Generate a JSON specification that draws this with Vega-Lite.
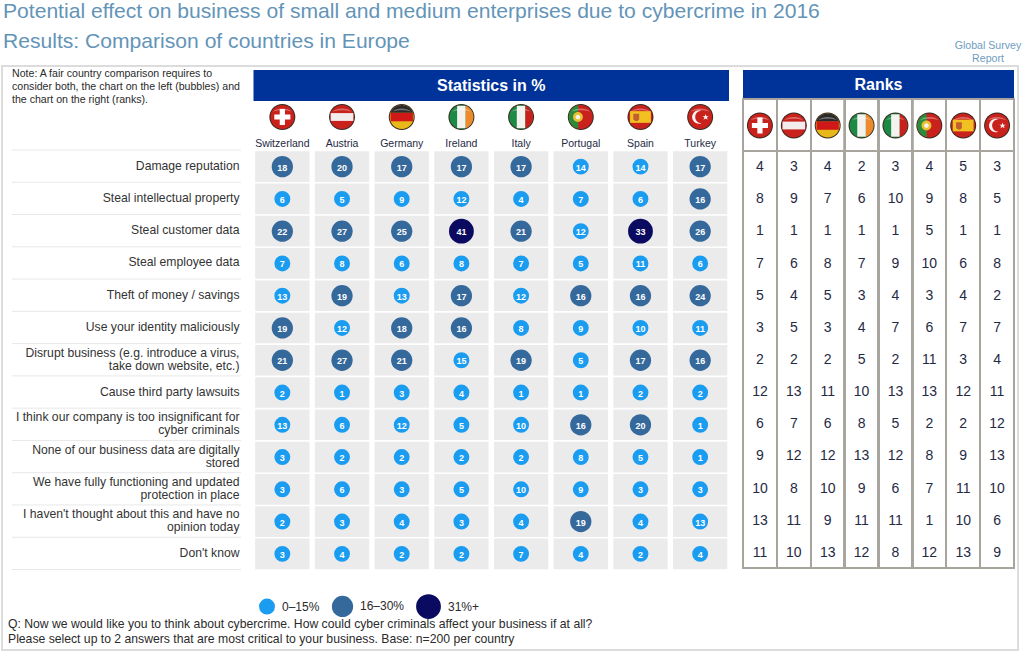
{"$schema":"https://vega.github.io/schema/vega-lite/v6.json","width":1023,"height":654,"autosize":"none","padding":0,"background":"white","config":{"view":{"stroke":null},"font":"Liberation Sans"},
"datasets":{"cells":[
{"q":"Damage reputation","country":"Switzerland","pct":18,"rank":4,"band":"16–30%"},{"q":"Damage reputation","country":"Austria","pct":20,"rank":3,"band":"16–30%"},{"q":"Damage reputation","country":"Germany","pct":17,"rank":4,"band":"16–30%"},{"q":"Damage reputation","country":"Ireland","pct":17,"rank":2,"band":"16–30%"},{"q":"Damage reputation","country":"Italy","pct":17,"rank":3,"band":"16–30%"},{"q":"Damage reputation","country":"Portugal","pct":14,"rank":4,"band":"0–15%"},{"q":"Damage reputation","country":"Spain","pct":14,"rank":5,"band":"0–15%"},{"q":"Damage reputation","country":"Turkey","pct":17,"rank":3,"band":"16–30%"},
{"q":"Steal intellectual property","country":"Switzerland","pct":6,"rank":8,"band":"0–15%"},{"q":"Steal intellectual property","country":"Austria","pct":5,"rank":9,"band":"0–15%"},{"q":"Steal intellectual property","country":"Germany","pct":9,"rank":7,"band":"0–15%"},{"q":"Steal intellectual property","country":"Ireland","pct":12,"rank":6,"band":"0–15%"},{"q":"Steal intellectual property","country":"Italy","pct":4,"rank":10,"band":"0–15%"},{"q":"Steal intellectual property","country":"Portugal","pct":7,"rank":9,"band":"0–15%"},{"q":"Steal intellectual property","country":"Spain","pct":6,"rank":8,"band":"0–15%"},{"q":"Steal intellectual property","country":"Turkey","pct":16,"rank":5,"band":"16–30%"},
{"q":"Steal customer data","country":"Switzerland","pct":22,"rank":1,"band":"16–30%"},{"q":"Steal customer data","country":"Austria","pct":27,"rank":1,"band":"16–30%"},{"q":"Steal customer data","country":"Germany","pct":25,"rank":1,"band":"16–30%"},{"q":"Steal customer data","country":"Ireland","pct":41,"rank":1,"band":"31%+"},{"q":"Steal customer data","country":"Italy","pct":21,"rank":1,"band":"16–30%"},{"q":"Steal customer data","country":"Portugal","pct":12,"rank":5,"band":"0–15%"},{"q":"Steal customer data","country":"Spain","pct":33,"rank":1,"band":"31%+"},{"q":"Steal customer data","country":"Turkey","pct":26,"rank":1,"band":"16–30%"},
{"q":"Steal employee data","country":"Switzerland","pct":7,"rank":7,"band":"0–15%"},{"q":"Steal employee data","country":"Austria","pct":8,"rank":6,"band":"0–15%"},{"q":"Steal employee data","country":"Germany","pct":6,"rank":8,"band":"0–15%"},{"q":"Steal employee data","country":"Ireland","pct":8,"rank":7,"band":"0–15%"},{"q":"Steal employee data","country":"Italy","pct":7,"rank":9,"band":"0–15%"},{"q":"Steal employee data","country":"Portugal","pct":5,"rank":10,"band":"0–15%"},{"q":"Steal employee data","country":"Spain","pct":11,"rank":6,"band":"0–15%"},{"q":"Steal employee data","country":"Turkey","pct":6,"rank":8,"band":"0–15%"},
{"q":"Theft of money / savings","country":"Switzerland","pct":13,"rank":5,"band":"0–15%"},{"q":"Theft of money / savings","country":"Austria","pct":19,"rank":4,"band":"16–30%"},{"q":"Theft of money / savings","country":"Germany","pct":13,"rank":5,"band":"0–15%"},{"q":"Theft of money / savings","country":"Ireland","pct":17,"rank":3,"band":"16–30%"},{"q":"Theft of money / savings","country":"Italy","pct":12,"rank":4,"band":"0–15%"},{"q":"Theft of money / savings","country":"Portugal","pct":16,"rank":3,"band":"16–30%"},{"q":"Theft of money / savings","country":"Spain","pct":16,"rank":4,"band":"16–30%"},{"q":"Theft of money / savings","country":"Turkey","pct":24,"rank":2,"band":"16–30%"},
{"q":"Use your identity maliciously","country":"Switzerland","pct":19,"rank":3,"band":"16–30%"},{"q":"Use your identity maliciously","country":"Austria","pct":12,"rank":5,"band":"0–15%"},{"q":"Use your identity maliciously","country":"Germany","pct":18,"rank":3,"band":"16–30%"},{"q":"Use your identity maliciously","country":"Ireland","pct":16,"rank":4,"band":"16–30%"},{"q":"Use your identity maliciously","country":"Italy","pct":8,"rank":7,"band":"0–15%"},{"q":"Use your identity maliciously","country":"Portugal","pct":9,"rank":6,"band":"0–15%"},{"q":"Use your identity maliciously","country":"Spain","pct":10,"rank":7,"band":"0–15%"},{"q":"Use your identity maliciously","country":"Turkey","pct":11,"rank":7,"band":"0–15%"},
{"q":"Disrupt business (e.g. introduce a virus,|take down website, etc.)","country":"Switzerland","pct":21,"rank":2,"band":"16–30%"},{"q":"Disrupt business (e.g. introduce a virus,|take down website, etc.)","country":"Austria","pct":27,"rank":2,"band":"16–30%"},{"q":"Disrupt business (e.g. introduce a virus,|take down website, etc.)","country":"Germany","pct":21,"rank":2,"band":"16–30%"},{"q":"Disrupt business (e.g. introduce a virus,|take down website, etc.)","country":"Ireland","pct":15,"rank":5,"band":"0–15%"},{"q":"Disrupt business (e.g. introduce a virus,|take down website, etc.)","country":"Italy","pct":19,"rank":2,"band":"16–30%"},{"q":"Disrupt business (e.g. introduce a virus,|take down website, etc.)","country":"Portugal","pct":5,"rank":11,"band":"0–15%"},{"q":"Disrupt business (e.g. introduce a virus,|take down website, etc.)","country":"Spain","pct":17,"rank":3,"band":"16–30%"},{"q":"Disrupt business (e.g. introduce a virus,|take down website, etc.)","country":"Turkey","pct":16,"rank":4,"band":"16–30%"},
{"q":"Cause third party lawsuits","country":"Switzerland","pct":2,"rank":12,"band":"0–15%"},{"q":"Cause third party lawsuits","country":"Austria","pct":1,"rank":13,"band":"0–15%"},{"q":"Cause third party lawsuits","country":"Germany","pct":3,"rank":11,"band":"0–15%"},{"q":"Cause third party lawsuits","country":"Ireland","pct":4,"rank":10,"band":"0–15%"},{"q":"Cause third party lawsuits","country":"Italy","pct":1,"rank":13,"band":"0–15%"},{"q":"Cause third party lawsuits","country":"Portugal","pct":1,"rank":13,"band":"0–15%"},{"q":"Cause third party lawsuits","country":"Spain","pct":2,"rank":12,"band":"0–15%"},{"q":"Cause third party lawsuits","country":"Turkey","pct":2,"rank":11,"band":"0–15%"},
{"q":"I think our company is too insignificant for|cyber criminals","country":"Switzerland","pct":13,"rank":6,"band":"0–15%"},{"q":"I think our company is too insignificant for|cyber criminals","country":"Austria","pct":6,"rank":7,"band":"0–15%"},{"q":"I think our company is too insignificant for|cyber criminals","country":"Germany","pct":12,"rank":6,"band":"0–15%"},{"q":"I think our company is too insignificant for|cyber criminals","country":"Ireland","pct":5,"rank":8,"band":"0–15%"},{"q":"I think our company is too insignificant for|cyber criminals","country":"Italy","pct":10,"rank":5,"band":"0–15%"},{"q":"I think our company is too insignificant for|cyber criminals","country":"Portugal","pct":16,"rank":2,"band":"16–30%"},{"q":"I think our company is too insignificant for|cyber criminals","country":"Spain","pct":20,"rank":2,"band":"16–30%"},{"q":"I think our company is too insignificant for|cyber criminals","country":"Turkey","pct":1,"rank":12,"band":"0–15%"},
{"q":"None of our business data are digitally|stored","country":"Switzerland","pct":3,"rank":9,"band":"0–15%"},{"q":"None of our business data are digitally|stored","country":"Austria","pct":2,"rank":12,"band":"0–15%"},{"q":"None of our business data are digitally|stored","country":"Germany","pct":2,"rank":12,"band":"0–15%"},{"q":"None of our business data are digitally|stored","country":"Ireland","pct":2,"rank":13,"band":"0–15%"},{"q":"None of our business data are digitally|stored","country":"Italy","pct":2,"rank":12,"band":"0–15%"},{"q":"None of our business data are digitally|stored","country":"Portugal","pct":8,"rank":8,"band":"0–15%"},{"q":"None of our business data are digitally|stored","country":"Spain","pct":5,"rank":9,"band":"0–15%"},{"q":"None of our business data are digitally|stored","country":"Turkey","pct":1,"rank":13,"band":"0–15%"},
{"q":"We have fully functioning and updated|protection in place","country":"Switzerland","pct":3,"rank":10,"band":"0–15%"},{"q":"We have fully functioning and updated|protection in place","country":"Austria","pct":6,"rank":8,"band":"0–15%"},{"q":"We have fully functioning and updated|protection in place","country":"Germany","pct":3,"rank":10,"band":"0–15%"},{"q":"We have fully functioning and updated|protection in place","country":"Ireland","pct":5,"rank":9,"band":"0–15%"},{"q":"We have fully functioning and updated|protection in place","country":"Italy","pct":10,"rank":6,"band":"0–15%"},{"q":"We have fully functioning and updated|protection in place","country":"Portugal","pct":9,"rank":7,"band":"0–15%"},{"q":"We have fully functioning and updated|protection in place","country":"Spain","pct":3,"rank":11,"band":"0–15%"},{"q":"We have fully functioning and updated|protection in place","country":"Turkey","pct":3,"rank":10,"band":"0–15%"},
{"q":"I haven't thought about this and have no|opinion today","country":"Switzerland","pct":2,"rank":13,"band":"0–15%"},{"q":"I haven't thought about this and have no|opinion today","country":"Austria","pct":3,"rank":11,"band":"0–15%"},{"q":"I haven't thought about this and have no|opinion today","country":"Germany","pct":4,"rank":9,"band":"0–15%"},{"q":"I haven't thought about this and have no|opinion today","country":"Ireland","pct":3,"rank":11,"band":"0–15%"},{"q":"I haven't thought about this and have no|opinion today","country":"Italy","pct":4,"rank":11,"band":"0–15%"},{"q":"I haven't thought about this and have no|opinion today","country":"Portugal","pct":19,"rank":1,"band":"16–30%"},{"q":"I haven't thought about this and have no|opinion today","country":"Spain","pct":4,"rank":10,"band":"0–15%"},{"q":"I haven't thought about this and have no|opinion today","country":"Turkey","pct":13,"rank":6,"band":"0–15%"},
{"q":"Don't know","country":"Switzerland","pct":3,"rank":11,"band":"0–15%"},{"q":"Don't know","country":"Austria","pct":4,"rank":10,"band":"0–15%"},{"q":"Don't know","country":"Germany","pct":2,"rank":13,"band":"0–15%"},{"q":"Don't know","country":"Ireland","pct":2,"rank":12,"band":"0–15%"},{"q":"Don't know","country":"Italy","pct":7,"rank":8,"band":"0–15%"},{"q":"Don't know","country":"Portugal","pct":4,"rank":12,"band":"0–15%"},{"q":"Don't know","country":"Spain","pct":2,"rank":13,"band":"0–15%"},{"q":"Don't know","country":"Turkey","pct":4,"rank":9,"band":"0–15%"}
],
"flags":[
{"country":"Switzerland","part":"rim"},{"country":"Switzerland","part":"disc-red"},{"country":"Switzerland","part":"cross-white"},{"country":"Switzerland","part":"gloss"},
{"country":"Austria","part":"rim"},{"country":"Austria","part":"disc-red"},{"country":"Austria","part":"hband-white"},{"country":"Austria","part":"gloss"},
{"country":"Germany","part":"rim"},{"country":"Germany","part":"disc-gold"},{"country":"Germany","part":"hband-red"},{"country":"Germany","part":"topcap-black"},{"country":"Germany","part":"gloss"},
{"country":"Ireland","part":"rim"},{"country":"Ireland","part":"disc-green"},{"country":"Ireland","part":"vmid-white"},{"country":"Ireland","part":"rightcap-orange"},{"country":"Ireland","part":"gloss"},
{"country":"Italy","part":"rim"},{"country":"Italy","part":"disc-green"},{"country":"Italy","part":"vmid-white"},{"country":"Italy","part":"rightcap-red"},{"country":"Italy","part":"gloss"},
{"country":"Portugal","part":"rim"},{"country":"Portugal","part":"disc-red"},{"country":"Portugal","part":"leftcap-green"},{"country":"Portugal","part":"crest-yellow"},{"country":"Portugal","part":"crest-white"},{"country":"Portugal","part":"gloss"},
{"country":"Spain","part":"rim"},{"country":"Spain","part":"disc-red"},{"country":"Spain","part":"wideband-yellow"},{"country":"Spain","part":"spaincrest"},{"country":"Spain","part":"gloss"},
{"country":"Turkey","part":"rim"},{"country":"Turkey","part":"disc-red"},{"country":"Turkey","part":"crescent-white"},{"country":"Turkey","part":"star-white"},{"country":"Turkey","part":"gloss"}
]},
"resolve":{"scale":{"x":"independent","y":"independent","color":"independent","size":"independent","shape":"independent"},"axis":{"x":"independent","y":"independent"},"legend":{"color":"independent","size":"independent"}},
"layer":[
{"data":{"values":[{"block":"frame"}]},"mark":{"type":"rect","fill":"white","stroke":"#dcdcdc","strokeWidth":2},"encoding":{"x":{"field":"block","type":"nominal","axis":null,"scale":{"type":"band","domain":["frame"],"range":[2,1018],"padding":0}},"y":{"field":"block","type":"nominal","axis":null,"scale":{"type":"band","domain":["frame"],"range":[66,650],"padding":0}}}},
{"data":{"values":[{"block":"title","line":1,"text":"Potential effect on business of small and medium enterprises due to cybercrime in 2016"},{"block":"title","line":2,"text":"Results: Comparison of countries in Europe"}]},"mark":{"type":"text","align":"left","baseline":"middle","fontSize":21.1,"color":"#6394b8"},"encoding":{"text":{"field":"text"},"x":{"field":"block","type":"nominal","axis":null,"scale":{"type":"point","domain":["title"],"range":[3,3]}},"y":{"field":"line","type":"quantitative","axis":null,"scale":{"domain":[1,2],"range":[12,42],"nice":false,"zero":false}}}},
{"data":{"values":[{"block":"report","line":1,"text":"Global Survey"},{"block":"report","line":2,"text":"Report"}]},"mark":{"type":"text","align":"center","baseline":"middle","fontSize":10.6,"color":"#6f9cc0"},"encoding":{"text":{"field":"text"},"x":{"field":"block","type":"nominal","axis":null,"scale":{"type":"point","domain":["report"],"range":[988,988]}},"y":{"field":"line","type":"quantitative","axis":null,"scale":{"domain":[1,2],"range":[46,59],"nice":false,"zero":false}}}},
{"data":{"values":[{"block":"note","line":1,"text":"Note: A fair country comparison requires to"},{"block":"note","line":2,"text":"consider both, the chart on the left (bubbles) and"},{"block":"note","line":3,"text":"the chart on the right (ranks)."}]},"mark":{"type":"text","align":"left","baseline":"middle","fontSize":10.6,"color":"#2a2a2a"},"encoding":{"text":{"field":"text"},"x":{"field":"block","type":"nominal","axis":null,"scale":{"type":"point","domain":["note"],"range":[12,12]}},"y":{"field":"line","type":"quantitative","axis":null,"scale":{"domain":[1,3],"range":[73.5,99.5],"nice":false,"zero":false}}}},
{"data":{"values":[{"block":"foot","line":1,"text":"Q: Now we would like you to think about cybercrime. How could cyber criminals affect your business if at all?"},{"block":"foot","line":2,"text":"Please select up to 2 answers that are most critical to your business. Base: n=200 per country"}]},"mark":{"type":"text","align":"left","baseline":"middle","fontSize":12.2,"color":"#2a2a2a"},"encoding":{"text":{"field":"text"},"x":{"field":"block","type":"nominal","axis":null,"scale":{"type":"point","domain":["foot"],"range":[8,8]}},"y":{"field":"line","type":"quantitative","axis":null,"scale":{"domain":[1,2],"range":[624,639],"nice":false,"zero":false}}}},
{"data":{"values":[{"panel":"Statistics in %"}]},"encoding":{"x":{"field":"panel","type":"nominal","axis":null,"scale":{"type":"band","domain":["Statistics in %"],"range":[253.5,729],"padding":0}},"y":{"field":"panel","type":"nominal","axis":null,"scale":{"type":"band","domain":["Statistics in %"],"range":[70,101],"padding":0}}},"layer":[{"mark":{"type":"rect","fill":"#003399"}},{"mark":{"type":"text","color":"white","fontWeight":"bold","fontSize":16,"baseline":"middle"},"encoding":{"text":{"field":"panel"}}}]},
{"data":{"values":[{"panel":"Ranks"}]},"encoding":{"x":{"field":"panel","type":"nominal","axis":null,"scale":{"type":"band","domain":["Ranks"],"range":[743,1014],"padding":0}},"y":{"field":"panel","type":"nominal","axis":null,"scale":{"type":"band","domain":["Ranks"],"range":[70,99],"padding":0}}},"layer":[{"mark":{"type":"rect","fill":"#003399"}},{"mark":{"type":"text","color":"white","fontWeight":"bold","fontSize":16,"baseline":"middle","dy":0.5},"encoding":{"text":{"field":"panel"}}}]},
{"data":{"name":"cells"},"transform":[{"filter":"datum.country === 'Turkey'"}],"layer":[
{"mark":{"type":"rule","stroke":"#e8e8e8","strokeWidth":1},"encoding":{"x":{"datum":0,"type":"quantitative","axis":null,"scale":{"domain":[0,1],"range":[12,241]}},"x2":{"datum":1},"y":{"field":"q","type":"nominal","sort":null,"bandPosition":0,"axis":null,"scale":{"type":"band","range":[150,569.5],"padding":0}}}},
{"transform":[{"filter":"datum.q === \"Don't know\""}],"mark":{"type":"rule","stroke":"#e8e8e8","strokeWidth":1},"encoding":{"x":{"datum":0,"type":"quantitative","axis":null,"scale":{"domain":[0,1],"range":[12,241]}},"x2":{"datum":1},"y":{"field":"q","type":"nominal","bandPosition":0,"axis":null,"scale":{"type":"point","range":[569.5,569.5]}}}}
],"resolve":{"scale":{"y":"independent"}}},
{"data":{"name":"cells"},"encoding":{"x":{"field":"country","type":"nominal","sort":null,"title":null,"scale":{"type":"band","domain":["Switzerland","Austria","Germany","Ireland","Italy","Portugal","Spain","Turkey"],"range":[252.5,730],"paddingInner":0.09,"paddingOuter":0.045},"axis":{"orient":"top","offset":-148,"domain":false,"ticks":false,"labelPadding":0,"labelAngle":0,"labelFontSize":10.5,"labelColor":"#1f2a44","labelFont":"Liberation Sans","labelBound":false,"labelOverlap":false,"grid":false}},"y":{"field":"q","type":"nominal","sort":null,"title":null,"scale":{"type":"band","range":[150.5,570],"paddingInner":0.05,"paddingOuter":0.025},"axis":{"orient":"left","offset":-241,"domain":false,"ticks":false,"labelPadding":2,"labelFontSize":12.2,"labelColor":"#333333","labelFont":"Liberation Sans","labelBound":false,"labelOverlap":false,"labelLimit":400,"labelLineHeight":13,"grid":false,"labelExpr":"split(datum.label, '|')","labelOffset":{"condition":{"test":"indexof(datum.value,'|')>=0","value":-7.5},"value":-1}}}},"layer":[
{"mark":{"type":"rect","fill":"#ebebeb"}},
{"mark":{"type":"point","filled":true,"opacity":1,"strokeWidth":0},"encoding":{"color":{"field":"band","type":"nominal","scale":{"domain":["0–15%","16–30%","31%+"],"range":["#1a9cf0","#35699c","#0a0a60"]},"legend":{"orient":"none","legendX":258,"legendY":593,"direction":"horizontal","title":null,"labelFontSize":12,"labelColor":"#2a2a2a","symbolType":"circle","columnPadding":8,"labelOffset":6,"symbolOpacity":1}},"size":{"field":"band","type":"nominal","scale":{"type":"ordinal","domain":["0–15%","16–30%","31%+"],"range":[254,452,616]},"legend":{"orient":"none","legendX":258,"legendY":593,"direction":"horizontal","title":null}}}},
{"mark":{"type":"text","color":"white","fontWeight":"bold","fontSize":9,"baseline":"middle","dy":1},"encoding":{"text":{"field":"pct","type":"quantitative"}}}
]},
{"data":{"name":"flags"},"mark":{"type":"point","filled":true,"opacity":1,"strokeWidth":0,"size":676},"encoding":{"x":{"field":"country","type":"nominal","axis":null,"scale":{"type":"band","domain":["Switzerland","Austria","Germany","Ireland","Italy","Portugal","Spain","Turkey"],"range":[252.5,730],"padding":0}},"y":{"datum":"flags","type":"nominal","axis":null,"scale":{"type":"point","domain":["flags"],"range":[117,117]}},
"color":{"field":"part","type":"nominal","legend":null,"scale":{"domain":["rim","disc-red","disc-green","disc-gold","cross-white","hband-white","hband-red","topcap-black","vmid-white","rightcap-orange","rightcap-red","leftcap-green","crest-yellow","crest-white","wideband-yellow","spaincrest","crescent-white","star-white","gloss"],"range":["#3a2a22","#c9221c","#1c8a45","#e8b818","#ffffff","#f2ecec","#d01818","#2a2a2a","#f4f2ee","#ef8a2c","#c8201c","#2c8a3a","#e8c030","#f4f2ee","#f2c020","#c06030","#f8f4f4","#f8f4f4","rgba(255,255,255,0.35)"]}},
"shape":{"field":"part","type":"nominal","legend":null,"scale":{"domain":["rim","disc-red","disc-green","disc-gold","cross-white","hband-white","hband-red","topcap-black","vmid-white","rightcap-orange","rightcap-red","leftcap-green","crest-yellow","crest-white","wideband-yellow","spaincrest","crescent-white","star-white","gloss"],"range":["M-1,0A1,1 0 1,1 1,0A1,1 0 1,1 -1,0Z","M-.92,0A.92,.92 0 1,1 .92,0A.92,.92 0 1,1 -.92,0Z","M-.92,0A.92,.92 0 1,1 .92,0A.92,.92 0 1,1 -.92,0Z","M-.92,0A.92,.92 0 1,1 .92,0A.92,.92 0 1,1 -.92,0Z","M-.2,-.62H.2V-.2H.62V.2H.2V.62H-.2V.2H-.62V-.2H-.2Z","M-.87,-.3H.87V.3H-.87Z","M-.86,-.33H.86V.33H-.86Z","M-.86,-.33A.92,.92 0 0,1 .86,-.33Z","M-.33,-.86H.33V.86H-.33Z","M.33,-.86A.92,.92 0 0,1 .33,.86Z","M.33,-.86A.92,.92 0 0,1 .33,.86Z","M-.2,-.9A.92,.92 0 0,0 -.2,.9Z","M-.6,0A.38,.38 0 1,1 .16,0A.38,.38 0 1,1 -.6,0Z","M-.4,0A.18,.18 0 1,1 -.04,0A.18,.18 0 1,1 -.4,0Z","M-.8,-.45H.8V.45H-.8Z","M-.55,-.25H-.1V.2Q-.3,.45 -.55,.2Z","M.1,-.48A.52,.52 0 1,0 .1,.48A.42,.42 0 1,1 .1,-.48Z","M.42,-.24L.48,-.06H.66L.52,.04L.58,.22L.42,.12L.26,.22L.32,.04L.18,-.06H.36Z","M-.72,-.42A.9,.6 0 0,1 .72,-.42A1.4,.7 0 0,0 -.72,-.42Z"]}}}},
{"data":{"name":"flags"},"mark":{"type":"point","filled":true,"opacity":1,"strokeWidth":0,"size":676},"encoding":{"x":{"field":"country","type":"nominal","axis":null,"scale":{"type":"band","domain":["Switzerland","Austria","Germany","Ireland","Italy","Portugal","Spain","Turkey"],"range":[743,1014],"padding":0}},"y":{"datum":"flags","type":"nominal","axis":null,"scale":{"type":"point","domain":["flags"],"range":[125.5,125.5]}},
"color":{"field":"part","type":"nominal","legend":null,"scale":{"domain":["rim","disc-red","disc-green","disc-gold","cross-white","hband-white","hband-red","topcap-black","vmid-white","rightcap-orange","rightcap-red","leftcap-green","crest-yellow","crest-white","wideband-yellow","spaincrest","crescent-white","star-white","gloss"],"range":["#3a2a22","#c9221c","#1c8a45","#e8b818","#ffffff","#f2ecec","#d01818","#2a2a2a","#f4f2ee","#ef8a2c","#c8201c","#2c8a3a","#e8c030","#f4f2ee","#f2c020","#c06030","#f8f4f4","#f8f4f4","rgba(255,255,255,0.35)"]}},
"shape":{"field":"part","type":"nominal","legend":null,"scale":{"domain":["rim","disc-red","disc-green","disc-gold","cross-white","hband-white","hband-red","topcap-black","vmid-white","rightcap-orange","rightcap-red","leftcap-green","crest-yellow","crest-white","wideband-yellow","spaincrest","crescent-white","star-white","gloss"],"range":["M-1,0A1,1 0 1,1 1,0A1,1 0 1,1 -1,0Z","M-.92,0A.92,.92 0 1,1 .92,0A.92,.92 0 1,1 -.92,0Z","M-.92,0A.92,.92 0 1,1 .92,0A.92,.92 0 1,1 -.92,0Z","M-.92,0A.92,.92 0 1,1 .92,0A.92,.92 0 1,1 -.92,0Z","M-.2,-.62H.2V-.2H.62V.2H.2V.62H-.2V.2H-.62V-.2H-.2Z","M-.87,-.3H.87V.3H-.87Z","M-.86,-.33H.86V.33H-.86Z","M-.86,-.33A.92,.92 0 0,1 .86,-.33Z","M-.33,-.86H.33V.86H-.33Z","M.33,-.86A.92,.92 0 0,1 .33,.86Z","M.33,-.86A.92,.92 0 0,1 .33,.86Z","M-.2,-.9A.92,.92 0 0,0 -.2,.9Z","M-.6,0A.38,.38 0 1,1 .16,0A.38,.38 0 1,1 -.6,0Z","M-.4,0A.18,.18 0 1,1 -.04,0A.18,.18 0 1,1 -.4,0Z","M-.8,-.45H.8V.45H-.8Z","M-.55,-.25H-.1V.2Q-.3,.45 -.55,.2Z","M.1,-.48A.52,.52 0 1,0 .1,.48A.42,.42 0 1,1 .1,-.48Z","M.42,-.24L.48,-.06H.66L.52,.04L.58,.22L.42,.12L.26,.22L.32,.04L.18,-.06H.36Z","M-.72,-.42A.9,.6 0 0,1 .72,-.42A1.4,.7 0 0,0 -.72,-.42Z"]}}}},
{"data":{"name":"flags"},"mark":{"type":"rect","fill":"transparent","stroke":"#a8a49e","strokeWidth":1.5},"encoding":{"x":{"field":"country","type":"nominal","axis":null,"scale":{"type":"band","domain":["Switzerland","Austria","Germany","Ireland","Italy","Portugal","Spain","Turkey"],"range":[743,1014],"padding":0}},"y":{"datum":0,"type":"quantitative","axis":null,"scale":{"domain":[0,1],"range":[99,151]}},"y2":{"datum":1}}},
{"data":{"name":"cells"},"mark":{"type":"rect","fill":"transparent","stroke":"#a8a49e","strokeWidth":1.5},"encoding":{"x":{"field":"country","type":"nominal","axis":null,"scale":{"type":"band","domain":["Switzerland","Austria","Germany","Ireland","Italy","Portugal","Spain","Turkey"],"range":[743,1014],"padding":0}},"y":{"datum":0,"type":"quantitative","axis":null,"scale":{"domain":[0,1],"range":[151,568]}},"y2":{"datum":1}}},
{"data":{"name":"cells"},"mark":{"type":"text","fontSize":14,"color":"#1f2a44","baseline":"middle"},"encoding":{"text":{"field":"rank","type":"quantitative"},"x":{"field":"country","type":"nominal","axis":null,"scale":{"type":"band","domain":["Switzerland","Austria","Germany","Ireland","Italy","Portugal","Spain","Turkey"],"range":[743,1014],"padding":0}},"y":{"field":"q","type":"nominal","sort":null,"axis":null,"scale":{"type":"band","range":[151,569],"padding":0}}}}
]}
